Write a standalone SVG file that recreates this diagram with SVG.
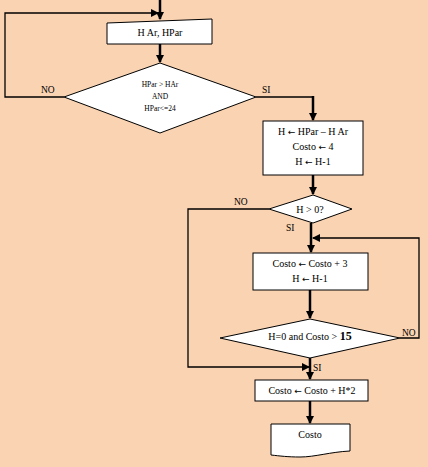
<svg xmlns="http://www.w3.org/2000/svg" width="428" height="467" viewBox="0 0 428 467">
<style>
.s{fill:#fff;stroke:#000;stroke-width:1}
.t{font-family:"Liberation Serif",serif;font-size:10px;fill:#000;text-anchor:middle}
.sm{font-size:7.5px}
.ar{font-family:"DejaVu Sans",sans-serif;font-size:9px}
.l{font-family:"Liberation Serif",serif;font-size:9.5px;fill:#000}
.c{fill:none;stroke:#000;stroke-width:2.5}
.c2{fill:none;stroke:#000;stroke-width:1.3}
</style>
<defs>
<marker id="a" markerWidth="8" markerHeight="8" refX="7" refY="4" orient="auto" markerUnits="userSpaceOnUse">
<path d="M0,0 L8,4 L0,8 z" fill="#000"/>
</marker>
</defs>
<rect width="428" height="467" fill="#F9D3B2"/>
<g id="connectors">
<path class="c" d="M160,0 V19" marker-end="url(#a)"/>
<path class="c2" d="M64,97 H5 V13 H158" marker-end="url(#a)"/>
<path class="c" d="M160,44 V62" marker-end="url(#a)"/>
<path class="c2" d="M256,97 H313"/>
<path class="c" d="M313,96 V120" marker-end="url(#a)"/>
<path class="c" d="M313,175 V194" marker-end="url(#a)"/>
<path class="c2" d="M269,209 H188 V367 H309" marker-end="url(#a)"/>
<path class="c" d="M311,223 V252" marker-end="url(#a)"/>
<path class="c2" d="M400,338 H419 V238 H313" marker-end="url(#a)"/>
<path class="c" d="M310,290 V318" marker-end="url(#a)"/>
<path class="c" d="M310,358 V379" marker-end="url(#a)"/>
<path class="c" d="M310,401 V423" marker-end="url(#a)"/>
</g>
<g id="n1">
<path class="s" d="M107,23 L212,19 V44 H107 Z"/>
<text class="t" x="160" y="36">H Ar, HPar</text>
</g>
<g id="n2">
<path class="s" d="M160,63 L256,97 L160,133 L64,97 Z"/>
<text class="t sm" x="160" y="87">HPar &gt; HAr</text>
<text class="t sm" x="160" y="99">AND</text>
<text class="t sm" x="160" y="111">HPar&lt;=24</text>
</g>
<text class="l" x="41" y="93">NO</text>
<text class="l" x="262" y="93">SI</text>
<g id="n3">
<rect class="s" x="263" y="121" width="100" height="54"/>
<text class="t" x="313" y="135">H <tspan class="ar">←</tspan> HPar – H Ar</text>
<text class="t" x="313" y="150">Costo <tspan class="ar">←</tspan> 4</text>
<text class="t" x="313" y="165">H <tspan class="ar">←</tspan> H-1</text>
</g>
<g id="n4">
<path class="s" d="M313,195 L352,209 L313,223 L269,209 Z"/>
<text class="t" x="310" y="213">H &gt; 0?</text>
</g>
<text class="l" x="234" y="205">NO</text>
<text class="l" x="286" y="231">SI</text>
<g id="n5">
<rect class="s" x="253" y="253" width="115" height="37"/>
<text class="t" x="310" y="267">Costo <tspan class="ar">←</tspan> Costo + 3</text>
<text class="t" x="310" y="282">H <tspan class="ar">←</tspan> H-1</text>
</g>
<g id="n6">
<path class="s" d="M310,319 L400,338 L310,358 L220,338 Z"/>
<text class="t" x="310" y="340">H=0 and Costo &gt; <tspan font-weight="bold" font-size="12px">15</tspan></text>
</g>
<text class="l" x="402" y="336">NO</text>
<text class="l" x="313" y="371">SI</text>
<g id="n7">
<rect class="s" x="255" y="380" width="113" height="21"/>
<text class="t" x="312" y="394">Costo <tspan class="ar">←</tspan> Costo + H*2</text>
</g>
<g id="n8">
<path class="s" d="M271,424 H350 V451 C330,452 315,457 300,457 C288,457 280,456 271,455 Z"/>
<text class="t" x="310" y="438">Costo</text>
</g>
</svg>
